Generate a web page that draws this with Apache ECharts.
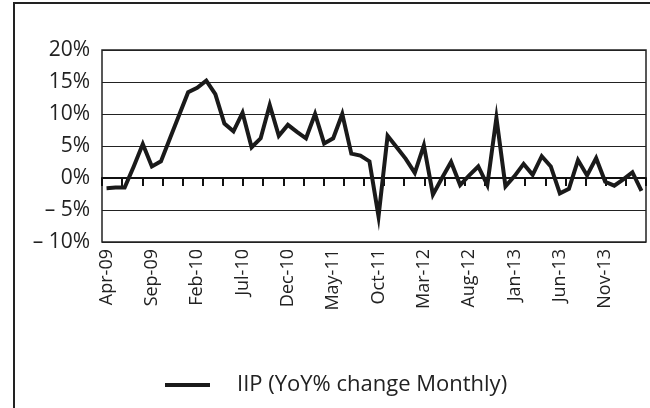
<!doctype html>
<html lang="en">

<head>
	<meta charset="UTF-8">
	<title>IIP YoY% change</title>
	<script src="https://cdn.jsdelivr.net/npm/echarts@6/dist/echarts.min.js"></script>
	<style>
		html, body { margin: 0; padding: 0; background: #fff; }
		#chart { width: 650px; height: 408px; }
	</style>
</head>

<body>
	<div id="chart"></div>

	<script>
		// months, Apr-09 .. Mar-14
		var months = [
			'Apr-09', 'May-09', 'Jun-09', 'Jul-09', 'Aug-09', 'Sep-09', 'Oct-09', 'Nov-09', 'Dec-09',
			'Jan-10', 'Feb-10', 'Mar-10', 'Apr-10', 'May-10', 'Jun-10', 'Jul-10', 'Aug-10', 'Sep-10', 'Oct-10', 'Nov-10', 'Dec-10',
			'Jan-11', 'Feb-11', 'Mar-11', 'Apr-11', 'May-11', 'Jun-11', 'Jul-11', 'Aug-11', 'Sep-11', 'Oct-11', 'Nov-11', 'Dec-11',
			'Jan-12', 'Feb-12', 'Mar-12', 'Apr-12', 'May-12', 'Jun-12', 'Jul-12', 'Aug-12', 'Sep-12', 'Oct-12', 'Nov-12', 'Dec-12',
			'Jan-13', 'Feb-13', 'Mar-13', 'Apr-13', 'May-13', 'Jun-13', 'Jul-13', 'Aug-13', 'Sep-13', 'Oct-13', 'Nov-13', 'Dec-13',
			'Jan-14', 'Feb-14', 'Mar-14'
		];

		// IIP, YoY % change
		var iip = [
			-1.6, -1.5, -1.5, 1.8, 5.3, 1.8, 2.6, 6.2, 9.8,
			13.4, 14.1, 15.2, 13.1, 8.5, 7.3, 10.2, 4.8, 6.2, 11.4, 6.6, 8.3,
			7.2, 6.2, 10.0, 5.4, 6.2, 10.0, 3.8, 3.5, 2.6, -6.0, 6.6, 4.8,
			3.0, 0.8, 5.1, -2.6, 0.0, 2.5, -1.1, 0.4, 1.8, -1.1, 9.4, -1.3,
			0.3, 2.2, 0.5, 3.4, 1.8, -2.4, -1.7, 2.8, 0.4, 3.1, -0.6, -1.2,
			-0.2, 0.9, -2.0
		];

		var yMin = -10, yMax = 20, yStep = 5;
		var seriesName = 'IIP (YoY% change Monthly)';
		var font = '"Open Sans", "Noto Sans", sans-serif';

		var chart = echarts.init(document.getElementById('chart'));

		var option = {
			animation: false,
			backgroundColor: '#fff',
			graphic: [
				{
					// outer frame
					type: 'rect',
					shape: { x: 14, y: 3, width: 700, height: 500 },
					style: { fill: 'none', stroke: '#222', lineWidth: 2 }
				}
			],
			grid: {
				left: 102, right: 4, top: 50, bottom: 166,
				show: true, borderColor: '#222', borderWidth: 1.5
			},
			legend: {
				left: 160, top: 369,
				icon: 'rect', itemWidth: 45, itemHeight: 4,
				data: [seriesName],
				textStyle: { fontFamily: font, fontSize: 22, color: '#222', padding: [0, 0, 0, 22] }
			},
			xAxis: [
				{
					type: 'category',
					data: months,
					boundaryGap: true,
					axisLine: { show: false, onZero: false },
					axisTick: { show: false },
					axisLabel: {
						interval: 4, rotate: 90, margin: 7,
						fontFamily: font, fontSize: 18, color: '#222'
					}
				},
				{
					// zero line with its tick marks
					type: 'value',
					position: 'bottom',
					min: 0, max: 27, interval: 1,
					axisLine: { show: true, onZero: true, lineStyle: { color: '#111', width: 2 } },
					axisTick: { show: true, length: 8, lineStyle: { color: '#111', width: 2 } },
					axisLabel: { show: false },
					splitLine: { show: false }
				}
			],
			yAxis: {
				type: 'value',
				min: yMin, max: yMax, interval: yStep,
				axisLine: { show: false },
				axisTick: { show: false },
				splitLine: { lineStyle: { color: '#222', width: 1 } },
				axisLabel: {
					margin: 12,
					fontFamily: font, fontSize: 21, color: '#222',
					formatter: function (v) {
						return v < 0 ? '\u2013 ' + (-v) + '%' : v + '%';
					}
				}
			},
			series: [
				{
					name: seriesName,
					type: 'line',
					xAxisIndex: 0,
					data: iip,
					symbol: 'none',
					color: '#1a1a1a',
					lineStyle: { color: '#1a1a1a', width: 4, join: 'miter', miterLimit: 10 }
				}
			]
		};

		chart.setOption(option);
	</script>
</body>

</html>
